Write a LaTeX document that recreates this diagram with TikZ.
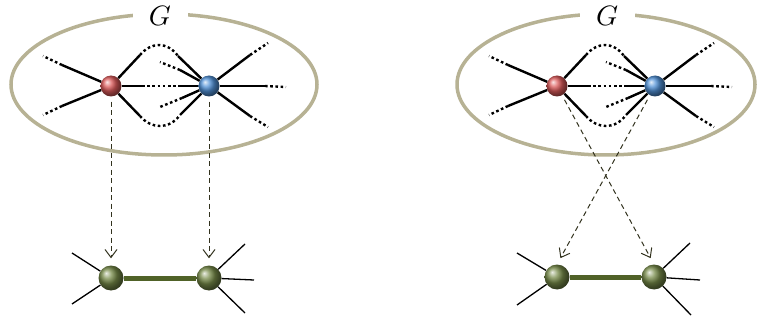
\documentclass[tikz,border=0pt]{standalone}
\usepackage{graphicx}
\usetikzlibrary{arrows.meta}
\definecolor{ringc}{RGB}{183,178,148}
\definecolor{mapc}{RGB}{50,50,30}
\definecolor{redb}{RGB}{220,90,90}
\definecolor{blueb}{RGB}{80,145,215}
\definecolor{greenb}{RGB}{118,138,72}
\definecolor{barc}{RGB}{80,98,40}
\begin{document}
\begin{tikzpicture}[x=1pt,y=-1pt,
  ball/.style={circle,minimum size=21pt,inner sep=0pt,shading=ball},
  gball/.style={circle,minimum size=25pt,inner sep=0pt,shading=ball,ball color=greenb},
  edg/.style={line width=2.4pt,black},
  dotseg/.style={line width=2.4pt,black,dash pattern=on 2.6pt off 2.6pt},
  ring/.style={ringc,line width=3.5pt},
  gtext/.style={fill=white,minimum width=55pt,minimum height=24pt,inner sep=0pt},
  mapto/.style={mapc,line width=1pt,dash pattern=on 5pt off 3.5pt,-{Straight Barb[length=8pt,width=12pt]},shorten <=5pt,shorten >=7pt},
  leg/.style={line width=1.3pt,black},
  gbar/.style={barc,line width=5pt}]
\useasboundingbox (0,0) rectangle (757,323);
% rings
\draw[ring] (164,84.5) ellipse [x radius=153pt, y radius=70.5pt];
\draw[ring] (606,84.5) ellipse [x radius=149pt, y radius=70.5pt];
\node[gtext] (GL) at (160,16) {\scalebox{2.8}{$G$}};
\node[gtext] (GR) at (607,16) {\scalebox{2.8}{$G$}};
% top graphs
\foreach \s/\n in {0/L,446/R}{
\begin{scope}[xshift=\s]
  \node[ball,ball color=redb] (r\n) at (111,86) {};
  \node[ball,ball color=blueb] (b\n) at (209,86) {};
  \coordinate (a1\n) at (62,65);   \coordinate (a1e\n) at (43,56);
  \coordinate (a2\n) at (62,106);  \coordinate (a2e\n) at (43,115);
  \coordinate (u1\n) at (140,55);  \coordinate (u2\n) at (178,56);
  \coordinate (d1\n) at (140,116); \coordinate (d2\n) at (180,115);
  \coordinate (h1\n) at (142,86);  \coordinate (h2\n) at (180,86);
  \coordinate (c1\n) at (180,70);  \coordinate (c1e\n) at (160,62);
  \coordinate (c2\n) at (182,98);  \coordinate (c2e\n) at (160,107);
  \coordinate (e1\n) at (250,55);  \coordinate (e1e\n) at (268,43);
  \coordinate (e2\n) at (265,86);  \coordinate (e2e\n) at (286,87);
  \coordinate (e3\n) at (250,116); \coordinate (e3e\n) at (268,127);
  % red edges
  \draw[edg] (r\n) -- (a1\n); \draw[dotseg] (a1\n) -- (a1e\n);
  \draw[edg] (r\n) -- (a2\n); \draw[dotseg] (a2\n) -- (a2e\n);
  \draw[edg] (r\n) -- (u1\n);
  \draw[dotseg] (u1\n) .. controls (151,42) and (167,41) .. (u2\n);
  \draw[edg] (u2\n) -- (b\n);
  \draw[edg] (r\n) -- (d1\n);
  \draw[dotseg] (d1\n) .. controls (151,129) and (169,130) .. (d2\n);
  \draw[edg] (d2\n) -- (b\n);
  \draw[edg] (r\n) -- (h1\n); \draw[dotseg] (h1\n) -- (h2\n); \draw[edg] (h2\n) -- (b\n);
  % blue edges
  \draw[edg] (b\n) -- (c1\n); \draw[dotseg] (c1\n) -- (c1e\n);
  \draw[edg] (b\n) -- (c2\n); \draw[dotseg] (c2\n) -- (c2e\n);
  \draw[edg] (b\n) -- (e1\n); \draw[dotseg] (e1\n) -- (e1e\n);
  \draw[edg] (b\n) -- (e2\n); \draw[dotseg] (e2\n) -- (e2e\n);
  \draw[edg] (b\n) -- (e3\n); \draw[dotseg] (e3\n) -- (e3e\n);
\end{scope}
}
% bottom graphs
\node[gball] (gL1) at (111,278) {};
\node[gball] (gL2) at (209,278) {};
\node[gball] (gR1) at (557,277) {};
\node[gball] (gR2) at (654,277) {};
\coordinate (lL1) at (72,253);  \coordinate (lL2) at (72,304);
\coordinate (lL3) at (245,244); \coordinate (lL4) at (254,280); \coordinate (lL5) at (245,313);
\coordinate (lR1) at (517,253); \coordinate (lR2) at (517,305);
\coordinate (lR3) at (690,243); \coordinate (lR4) at (700,280); \coordinate (lR5) at (691,315);
\draw[gbar] (gL1) -- (gL2);
\draw[gbar] (gR1) -- (gR2);
\draw[leg] (gL1) -- (lL1); \draw[leg] (gL1) -- (lL2);
\draw[leg] (gL2) -- (lL3); \draw[leg] (gL2) -- (lL4); \draw[leg] (gL2) -- (lL5);
\draw[leg] (gR1) -- (lR1); \draw[leg] (gR1) -- (lR2);
\draw[leg] (gR2) -- (lR3); \draw[leg] (gR2) -- (lR4); \draw[leg] (gR2) -- (lR5);
% mappings
\draw[mapto] (rL) -- (gL1.north);
\draw[mapto] (bL) -- (gL2.north);
\draw[mapto] (rR) -- (gR2.north);
\draw[mapto] (bR) -- (gR1.north);
\end{tikzpicture}
\end{document}
